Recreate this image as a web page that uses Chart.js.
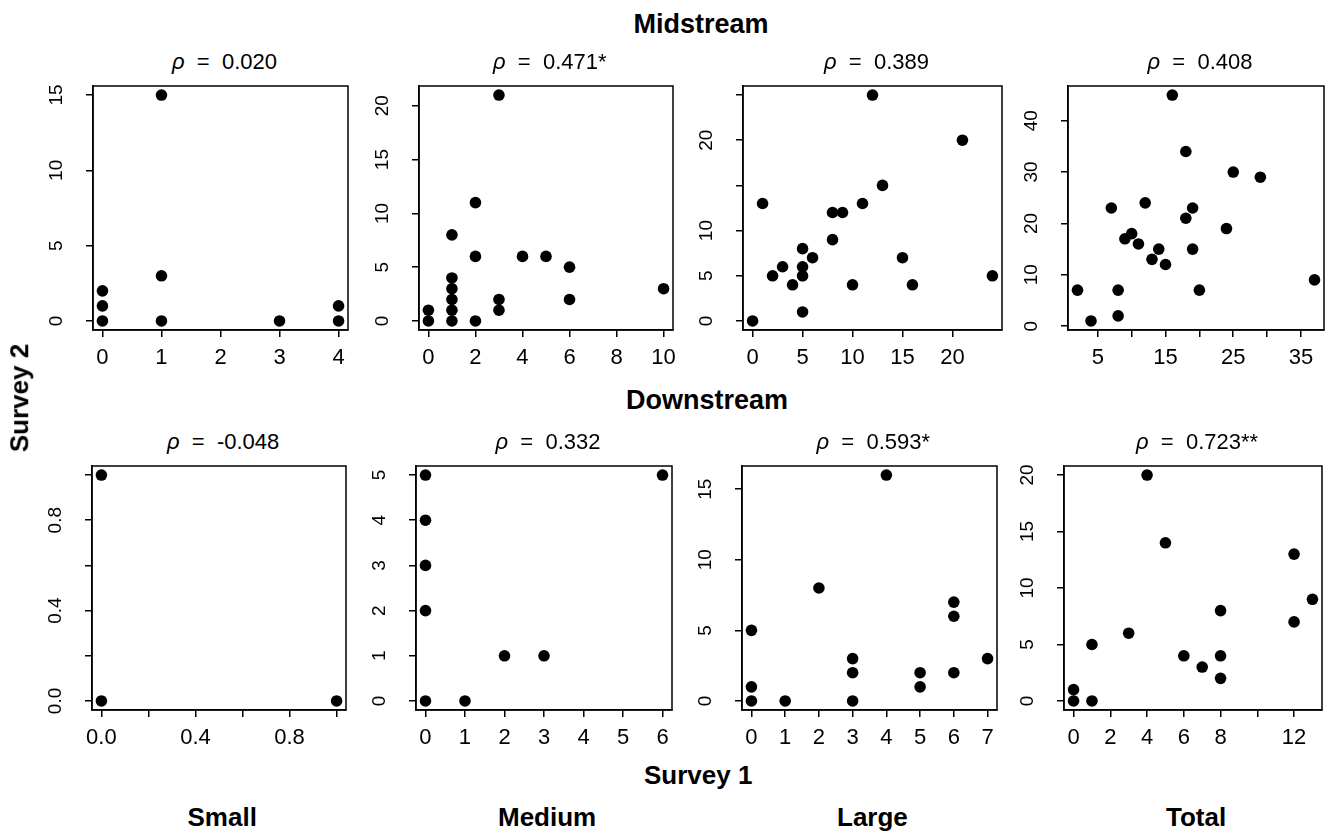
<!DOCTYPE html>
<html>
<head>
<meta charset="utf-8">
<script src="https://cdn.jsdelivr.net/npm/chart.js@4.4.1/dist/chart.umd.min.js"></script>
<style>
  html, body { margin:0; padding:0; background:#fff; overflow:hidden; }
  #page { position:relative; width:1326px; height:834px; }
  canvas { position:absolute; }
  .lbl { position:absolute; white-space:nowrap; color:#000; line-height:1; }
  .head { font-family:"Liberation Sans", Arial, sans-serif; font-weight:bold; font-size:27px; }
  .sub { font-family:"Liberation Sans", Arial, sans-serif; font-weight:bold; font-size:26px; }
  .rho { font-family:"Liberation Sans", Arial, sans-serif; font-size:22px; }
</style>
</head>
<body>
<div id="page"></div>
<script>
// Survey 1 (x) vs Survey 2 (y), one pair of arrays per panel
const midSmallX = [0, 0, 0, 1, 1, 1, 3, 4, 4];
const midSmallY = [0, 1, 2, 15, 3, 0, 0, 0, 1];
const midMediumX = [0, 0, 1, 1, 1, 1, 1, 1, 2, 2, 2, 3, 3, 3, 4, 5, 6, 6, 10];
const midMediumY = [0, 1, 0, 1, 2, 3, 4, 8, 0, 6, 11, 1, 2, 21, 6, 6, 5, 2, 3];
const midLargeX = [0, 1, 2, 3, 4, 5, 5, 5, 5, 6, 8, 8, 9, 10, 11, 12, 13, 15, 16, 21, 24];
const midLargeY = [0, 13, 5, 6, 4, 1, 5, 6, 8, 7, 9, 12, 12, 4, 13, 25, 15, 7, 4, 20, 5];
const midTotalX = [2, 4, 7, 8, 8, 9, 10, 11, 12, 13, 14, 15, 16, 18, 18, 19, 19, 20, 24, 25, 29, 37];
const midTotalY = [7, 1, 23, 2, 7, 17, 18, 16, 24, 13, 15, 12, 45, 34, 21, 23, 15, 7, 19, 30, 29, 9];

const downSmallX = [0, 0, 1];
const downSmallY = [0, 1, 0];
const downMediumX = [0, 0, 0, 0, 0, 1, 2, 3, 6];
const downMediumY = [0, 2, 3, 4, 5, 0, 1, 1, 5];
const downLargeX = [0, 0, 0, 1, 2, 3, 3, 3, 4, 5, 5, 6, 6, 6, 7];
const downLargeY = [0, 1, 5, 0, 8, 0, 2, 3, 16, 1, 2, 2, 6, 7, 3];
const downTotalX = [0, 0, 1, 1, 3, 4, 5, 6, 7, 8, 8, 8, 12, 12, 13];
const downTotalY = [0, 1, 0, 5, 6, 20, 14, 4, 3, 8, 4, 2, 13, 7, 9];

// tick positions and the labels R kept (blank = tick without label)
const midSmallXTicks = [0, 1, 2, 3, 4];          const midSmallXLabels = ["0", "1", "2", "3", "4"];
const midSmallYTicks = [0, 5, 10, 15];           const midSmallYLabels = ["0", "5", "10", "15"];
const midMediumXTicks = [0, 2, 4, 6, 8, 10];     const midMediumXLabels = ["0", "2", "4", "6", "8", "10"];
const midMediumYTicks = [0, 5, 10, 15, 20];      const midMediumYLabels = ["0", "5", "10", "15", "20"];
const midLargeXTicks = [0, 5, 10, 15, 20];       const midLargeXLabels = ["0", "5", "10", "15", "20"];
const midLargeYTicks = [0, 5, 10, 15, 20, 25];   const midLargeYLabels = ["0", "5", "10", "", "20", ""];
const midTotalXTicks = [5, 10, 15, 20, 25, 30, 35]; const midTotalXLabels = ["5", "", "15", "", "25", "", "35"];
const midTotalYTicks = [0, 10, 20, 30, 40];      const midTotalYLabels = ["0", "10", "20", "30", "40"];

const downSmallXTicks = [0, 0.2, 0.4, 0.6, 0.8, 1]; const downSmallXLabels = ["0.0", "", "0.4", "", "0.8", ""];
const downSmallYTicks = [0, 0.2, 0.4, 0.6, 0.8, 1]; const downSmallYLabels = ["0.0", "", "0.4", "", "0.8", ""];
const downMediumXTicks = [0, 1, 2, 3, 4, 5, 6];  const downMediumXLabels = ["0", "1", "2", "3", "4", "5", "6"];
const downMediumYTicks = [0, 1, 2, 3, 4, 5];     const downMediumYLabels = ["0", "1", "2", "3", "4", "5"];
const downLargeXTicks = [0, 1, 2, 3, 4, 5, 6, 7]; const downLargeXLabels = ["0", "1", "2", "3", "4", "5", "6", "7"];
const downLargeYTicks = [0, 5, 10, 15];          const downLargeYLabels = ["0", "5", "10", "15"];
const downTotalXTicks = [0, 2, 4, 6, 8, 10, 12]; const downTotalXLabels = ["0", "2", "4", "6", "8", "", "12"];
const downTotalYTicks = [0, 5, 10, 15, 20];      const downTotalYLabels = ["0", "5", "10", "15", "20"];

const rhoMid = ["0.020", "0.471*", "0.389", "0.408"];
const rhoDown = ["-0.048", "0.332", "0.593*", "0.723**"];
const sizeClasses = ["Small", "Medium", "Large", "Total"];

// plot boxes in page pixels: left, top, right, bottom
const panels = [
  { x: midSmallX,   y: midSmallY,   xt: midSmallXTicks,   xl: midSmallXLabels,   yt: midSmallYTicks,   yl: midSmallYLabels,   rho: rhoMid[0],  box: [93, 86, 348, 330] },
  { x: midMediumX,  y: midMediumY,  xt: midMediumXTicks,  xl: midMediumXLabels,  yt: midMediumYTicks,  yl: midMediumYLabels,  rho: rhoMid[1],  box: [419, 86, 673, 330] },
  { x: midLargeX,   y: midLargeY,   xt: midLargeXTicks,   xl: midLargeXLabels,   yt: midLargeYTicks,   yl: midLargeYLabels,   rho: rhoMid[2],  box: [743, 86, 1002, 330] },
  { x: midTotalX,   y: midTotalY,   xt: midTotalXTicks,   xl: midTotalXLabels,   yt: midTotalYTicks,   yl: midTotalYLabels,   rho: rhoMid[3],  box: [1068, 86, 1324, 330] },
  { x: downSmallX,  y: downSmallY,  xt: downSmallXTicks,  xl: downSmallXLabels,  yt: downSmallYTicks,  yl: downSmallYLabels,  rho: rhoDown[0], box: [92, 466, 346, 710] },
  { x: downMediumX, y: downMediumY, xt: downMediumXTicks, xl: downMediumXLabels, yt: downMediumYTicks, yl: downMediumYLabels, rho: rhoDown[1], box: [416, 466, 672, 710] },
  { x: downLargeX,  y: downLargeY,  xt: downLargeXTicks,  xl: downLargeXLabels,  yt: downLargeYTicks,  yl: downLargeYLabels,  rho: rhoDown[2], box: [742, 466, 997, 710] },
  { x: downTotalX,  y: downTotalY,  xt: downTotalXTicks,  xl: downTotalXLabels,  yt: downTotalYTicks,  yl: downTotalYLabels,  rho: rhoDown[3], box: [1064, 466, 1322, 710] }
];

const PAD_L = 60, PAD_T = 4, PAD_R = 12, PAD_B = 45;
const X_TICK_FONT = "22px 'Liberation Sans', Arial, sans-serif";
const Y_TICK_FONT = "19px 'Liberation Sans', Arial, sans-serif";
const page = document.getElementById("page");

// R-style axis range: data range widened by 4% each side
function rRange(v){
  const lo = Math.min(...v), hi = Math.max(...v), d = (hi - lo) * 0.04;
  return [lo - d, hi + d];
}

function addText(cls, text, cx, baseline, size, rotate){
  const el = document.createElement("div");
  el.className = "lbl " + cls;
  el.innerHTML = text;
  page.appendChild(el);
  const w = el.offsetWidth;
  el.style.left = (cx - w / 2) + "px";
  if (rotate){
    el.style.top = (baseline - size * 0.5) + "px";
    el.style.transform = "rotate(-90deg)";
  } else {
    el.style.top = (baseline - size * 0.85) + "px";
  }
  return el;
}

// box round the plot and tick labels drawn R-style (y labels turned 90 degrees)
const rFrame = {
  id: "rFrame",
  afterDraw(chart){
    const { ctx, chartArea: a } = chart;
    const { x: xs, y: ys } = chart.scales;
    const { xLabels, yLabels } = chart.options.plugins.rFrame;
    ctx.save();
    ctx.strokeStyle = "#000";
    ctx.lineWidth = 1.5;
    ctx.strokeRect(a.left, a.top, a.right - a.left, a.bottom - a.top);
    ctx.fillStyle = "#000";
    ctx.textAlign = "center";
    ctx.textBaseline = "alphabetic";
    ctx.font = X_TICK_FONT;
    xs.ticks.forEach((t, i) => {
      if (xLabels[i]) ctx.fillText(xLabels[i], xs.getPixelForValue(t.value), a.bottom + 34);
    });
    ctx.font = Y_TICK_FONT;
    ys.ticks.forEach((t, i) => {
      if (!yLabels[i]) return;
      ctx.save();
      ctx.translate(a.left - 31, ys.getPixelForValue(t.value));
      ctx.rotate(-Math.PI / 2);
      ctx.fillText(yLabels[i], 0, 0);
      ctx.restore();
    });
    ctx.restore();
  }
};

panels.forEach((p) => {
  const [l, t, r, b] = p.box;
  const cv = document.createElement("canvas");
  const w = (r - l) + PAD_L + PAD_R, h = (b - t) + PAD_T + PAD_B;
  cv.width = w; cv.height = h;
  cv.style.left = (l - PAD_L) + "px";
  cv.style.top = (t - PAD_T) + "px";
  cv.style.width = w + "px"; cv.style.height = h + "px";
  page.appendChild(cv);

  const [xmin, xmax] = rRange(p.x);
  const [ymin, ymax] = rRange(p.y);
  const axisGrid = { drawOnChartArea: false, drawTicks: true, tickLength: 7, color: "#000", lineWidth: 1.5 };

  new Chart(cv, {
    type: "scatter",
    data: { datasets: [{ data: p.x.map((v, i) => ({ x: v, y: p.y[i] })), backgroundColor: "#000", borderWidth: 0, pointRadius: 5.8, clip: false }] },
    options: {
      responsive: false, animation: false, devicePixelRatio: 1,
      layout: { autoPadding: false, padding: { left: 0, top: PAD_T, right: PAD_R, bottom: 0 } },
      plugins: { legend: { display: false }, tooltip: { enabled: false }, rFrame: { xLabels: p.xl, yLabels: p.yl } },
      scales: {
        x: {
          type: "linear", min: xmin, max: xmax,
          afterBuildTicks: s => { s.ticks = p.xt.map(v => ({ value: v })); },
          afterFit: s => { s.height = PAD_B; s.paddingLeft = 0; s.paddingRight = 0; },
          ticks: { display: false },
          grid: axisGrid, border: { display: true, color: "#000", width: 1.5 }
        },
        y: {
          type: "linear", min: ymin, max: ymax,
          afterBuildTicks: s => { s.ticks = p.yt.map(v => ({ value: v })); },
          afterFit: s => { s.width = PAD_L; s.paddingTop = 0; s.paddingBottom = 0; },
          ticks: { display: false },
          grid: axisGrid, border: { display: true, color: "#000", width: 1.5 }
        }
      }
    },
    plugins: [rFrame]
  });

  addText("rho", "<i>ρ</i>&nbsp;&nbsp;=&nbsp;&nbsp;" + p.rho, (l + r) / 2 + 4, t - 16, 22);
});

addText("head", "Midstream", 701, 34, 27);
addText("head", "Downstream", 707, 410, 27);
addText("sub", "Survey 1", 698, 784, 26);
addText("sub", "Survey 2", 19, 398, 26, true);
sizeClasses.forEach((s, i) => {
  const b = panels[i + 4].box;
  addText("sub", s, (b[0] + b[2]) / 2 + 3, 826, 26);
});
</script>
</body>
</html>
